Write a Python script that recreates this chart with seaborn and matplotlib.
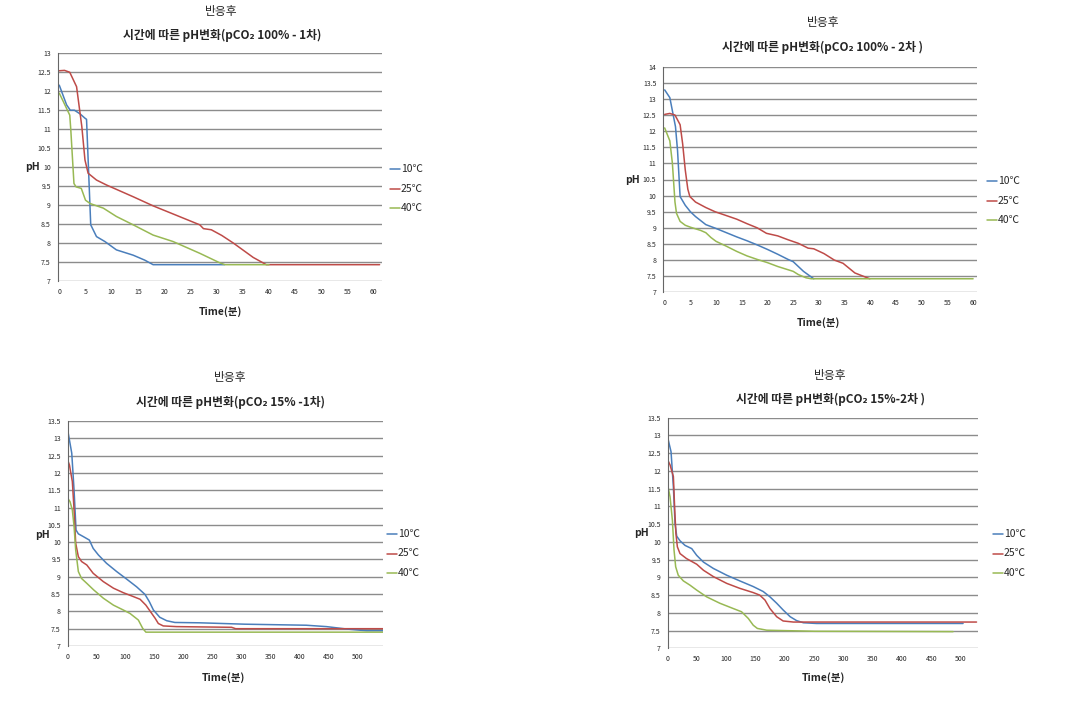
import numpy as np
import pandas as pd
import seaborn as sns
import matplotlib
matplotlib.use('Agg')
import matplotlib.pyplot as plt

sns.set_style('white')
plt.rcParams['font.family'] = ['Noto Sans CJK KR', 'DejaVu Sans']

# --- data (time in minutes, pH) ---
# pCO2 100% - 1st run
t1_10 = [0, 1.4, 2.1, 2.9, 4.0, 4.9, 5.2, 6.0, 7.1, 8.7, 10.9, 14.1, 16.3, 17.9, 31.5]
ph1_10 = [12.16, 11.64, 11.5, 11.5, 11.4, 11.29, 11.26, 8.48, 8.17, 8.04, 7.82, 7.68, 7.55, 7.43, 7.43]
t1_25 = [0, 1, 2.0, 3.3, 4.3, 4.9, 5.5, 7.1, 9.0, 14.1, 17.9, 22, 26.8, 27.5, 29, 31, 33.2, 35, 37, 39.5, 61.1]
ph1_25 = [12.54, 12.55, 12.5, 12.12, 11.07, 10.19, 9.84, 9.66, 9.53, 9.22, 8.98, 8.75, 8.48, 8.38, 8.35, 8.2, 8.0, 7.82, 7.62, 7.43, 7.43]
t1_40 = [0, 0.8, 2.0, 2.2, 2.8, 3.2, 4.2, 5.0, 5.9, 8.4, 10.9, 14.1, 17.9, 21.7, 26.8, 30.6, 31.6, 40]
ph1_40 = [11.95, 11.72, 11.37, 10.98, 9.57, 9.48, 9.44, 9.13, 9.04, 8.92, 8.7, 8.48, 8.21, 8.04, 7.73, 7.48, 7.43, 7.43]

# pCO2 100% - 2nd run
t2_10 = [0, 1.0, 2.1, 2.5, 3.0, 4, 5, 6, 8, 10, 12, 14, 16, 18, 20, 22, 24, 25, 26, 27, 28.3, 29]
ph2_10 = [13.28, 13.04, 12.14, 11.4, 9.97, 9.7, 9.5, 9.35, 9.1, 8.98, 8.85, 8.72, 8.6, 8.47, 8.33, 8.18, 8.02, 7.95, 7.8, 7.65, 7.5, 7.42]
t2_25 = [0, 1, 2, 3, 3.5, 4, 4.5, 4.9, 6, 8, 9.8, 12, 14, 16, 18, 19.8, 22, 24, 26, 27.9, 29, 31, 33, 34.7, 37, 39.9]
ph2_25 = [12.52, 12.55, 12.5, 12.2, 11.6, 10.8, 10.2, 9.97, 9.8, 9.63, 9.5, 9.38, 9.27, 9.13, 9.0, 8.83, 8.75, 8.63, 8.52, 8.37, 8.35, 8.2, 8.0, 7.9, 7.6, 7.42]
t2_40 = [0, 1, 1.5, 2, 2.3, 3, 4, 5, 6, 7, 8, 9, 10, 12, 14, 16, 18, 20, 22, 24, 25, 26, 27.5, 28.5, 60]
ph2_40 = [12.1, 11.7, 11.0, 9.8, 9.45, 9.2, 9.08, 9.02, 8.97, 8.92, 8.85, 8.7, 8.58, 8.43, 8.27, 8.13, 8.02, 7.92, 7.8, 7.7, 7.65, 7.55, 7.45, 7.42, 7.42]

# pCO2 15% - 1st run
t3_10 = [0, 1, 7, 11, 14.4, 18.4, 27, 37.4, 44, 53, 67, 84.6, 102, 119, 133.5, 141, 148, 159, 171, 185, 228, 306, 412, 447, 482, 516, 545]
ph3_10 = [13.1, 13.14, 12.57, 11.5, 10.35, 10.24, 10.16, 10.06, 9.82, 9.63, 9.39, 9.15, 8.93, 8.71, 8.49, 8.28, 8.04, 7.83, 7.73, 7.68, 7.67, 7.63, 7.6, 7.56, 7.49, 7.44, 7.44]
t3_25 = [0, 3, 8, 11, 13.8, 18.4, 24, 33, 44, 61.5, 79, 96, 113, 125, 135, 143, 151, 156.5, 165, 188, 283, 290, 545]
ph3_25 = [12.37, 12.23, 11.75, 10.93, 9.97, 9.58, 9.44, 9.34, 9.1, 8.86, 8.67, 8.54, 8.43, 8.35, 8.18, 7.99, 7.8, 7.65, 7.58, 7.56, 7.54, 7.5, 7.5]
t3_40 = [0, 4, 8, 11, 13.8, 18.4, 24, 33, 44.9, 61.6, 79, 96, 107.6, 122, 129.5, 135, 545]
ph3_40 = [11.27, 11.17, 10.93, 10.45, 9.77, 9.15, 8.95, 8.81, 8.62, 8.38, 8.18, 8.04, 7.94, 7.75, 7.51, 7.4, 7.4]

# pCO2 15% - 2nd run
t4_10 = [0, 1, 5.7, 9.7, 12.5, 15.4, 21, 29.6, 41, 49.5, 61, 78, 100.7, 123, 146, 163, 174.5, 186, 197, 209, 220, 231.5, 254, 504]
ph4_10 = [12.8, 12.87, 12.54, 11.55, 10.52, 10.16, 10.03, 9.9, 9.81, 9.62, 9.43, 9.25, 9.06, 8.9, 8.74, 8.6, 8.45, 8.27, 8.08, 7.89, 7.78, 7.72, 7.7, 7.7]
t4_25 = [0, 4, 9.7, 12, 14, 16.5, 21, 32, 49.5, 61, 78, 100.7, 123, 146, 157, 166, 174.5, 186, 197, 214.5, 260, 527]
ph4_25 = [12.31, 12.17, 11.84, 10.9, 10.24, 9.86, 9.67, 9.53, 9.37, 9.2, 9.02, 8.83, 8.69, 8.57, 8.5, 8.36, 8.12, 7.89, 7.77, 7.74, 7.74, 7.74]
t4_40 = [0, 4, 8, 10.8, 13.6, 18, 26.7, 38, 49.5, 66.5, 89, 112, 126, 137.6, 146, 153, 169, 251, 487]
ph4_40 = [11.6, 11.27, 10.61, 9.77, 9.3, 9.06, 8.9, 8.78, 8.64, 8.45, 8.27, 8.12, 8.03, 7.84, 7.65, 7.56, 7.51, 7.48, 7.47]

temps = ['10℃', '25℃', '40℃']
colors = ['#4a7ebb', '#be4b48', '#98b954']

titles = ['시간에 따른 pH변화(pCO₂ 100% - 1차)',
          '시간에 따른 pH변화(pCO₂ 100% - 2차 )',
          '시간에 따른 pH변화(pCO₂ 15% -1차)',
          '시간에 따른 pH변화(pCO₂ 15%-2차 )']

panels = [
    [(t1_10, ph1_10), (t1_25, ph1_25), (t1_40, ph1_40)],
    [(t2_10, ph2_10), (t2_25, ph2_25), (t2_40, ph2_40)],
    [(t3_10, ph3_10), (t3_25, ph3_25), (t3_40, ph3_40)],
    [(t4_10, ph4_10), (t4_25, ph4_25), (t4_40, ph4_40)],
]
xlims = [(-0.3, 61.5), (-0.27, 60.7), (0, 545), (0, 529)]
xticks = [np.arange(0, 61, 5), np.arange(0, 61, 5), np.arange(0, 501, 50), np.arange(0, 501, 50)]
ylims = [(7, 13), (7, 14), (7, 13.5), (7, 13.5)]

W, H = 1075, 717
# axes boxes in pixels: left, top, right, bottom
boxes = [(57.7, 53.3, 381.7, 281), (663.3, 66.7, 976.7, 292.3),
         (67.7, 421, 383.3, 646), (667.7, 417.7, 977.7, 648.3)]
# title1 y, title2 y, title x, xlabel x, xlabel y, ylabel x, ylabel y, legend x, legend y0
labels_pos = [(11.7, 35, 221.7, 220, 312, 33, 167, 390, 169),
              (22.7, 47.3, 823, 818, 323, 633, 180, 987, 181),
              (377.3, 402.7, 230, 223, 678, 43, 535, 387, 534),
              (375, 399.3, 830, 823, 678, 641.7, 533, 993, 534)]

fig = plt.figure(figsize=(W / 100, H / 100), dpi=100)

for i, series in enumerate(panels):
    l, t, r, b = boxes[i]
    ax = fig.add_axes([l / W, 1 - b / H, (r - l) / W, (b - t) / H])
    for (tt, pp), lab, col in zip(series, temps, colors):
        sns.lineplot(x=tt, y=pp, ax=ax, color=col, linewidth=1.1, sort=False,
                     estimator=None, label=lab, legend=False)
    ax.set_xlim(*xlims[i])
    ax.set_ylim(*ylims[i])
    ax.set_xticks(xticks[i])
    ax.set_xticklabels([str(v) for v in xticks[i]])
    yt = np.arange(ylims[i][0], ylims[i][1] + 0.01, 0.5)
    ax.set_yticks(yt)
    ax.set_yticklabels([('%g' % v) for v in yt])
    ax.tick_params(axis='both', labelsize=5, length=2, width=0.6, color='#555555', pad=3)
    ax.tick_params(axis='x', length=0, pad=5)
    ax.yaxis.grid(True, color='#8c8c8c', linewidth=1.0)
    ax.set_axisbelow(True)
    for s in ['top', 'right', 'bottom']:
        ax.spines[s].set_visible(False)
    ax.spines['left'].set_color('#666666')
    ax.spines['left'].set_linewidth(0.8)
    ax.set_xlabel('')
    ax.set_ylabel('')

    ty1, ty2, tx, xlx, xly, ylx, yly, lgx, lgy = labels_pos[i]
    fig.text(tx / W, 1 - ty1 / H, '반응후', ha='center', va='center', fontsize=8.5)
    fig.text(tx / W, 1 - ty2 / H, titles[i], ha='center', va='center', fontsize=8.5,
             fontweight='bold')
    fig.text(xlx / W, 1 - xly / H, 'Time(분)', ha='center', va='center', fontsize=7.5,
             fontweight='bold')
    fig.text(ylx / W, 1 - yly / H, 'pH', ha='center', va='center', fontsize=7.5,
             fontweight='bold')
    for k, (lab, col) in enumerate(zip(temps, colors)):
        yy = 1 - (lgy + k * 19.5) / H
        fig.add_artist(plt.Line2D([lgx / W, (lgx + 10) / W], [yy, yy], color=col,
                                  linewidth=1.1))
        fig.text((lgx + 11) / W, yy, lab, ha='left', va='center', fontsize=7.5)

fig.savefig('out.png', dpi=100)
